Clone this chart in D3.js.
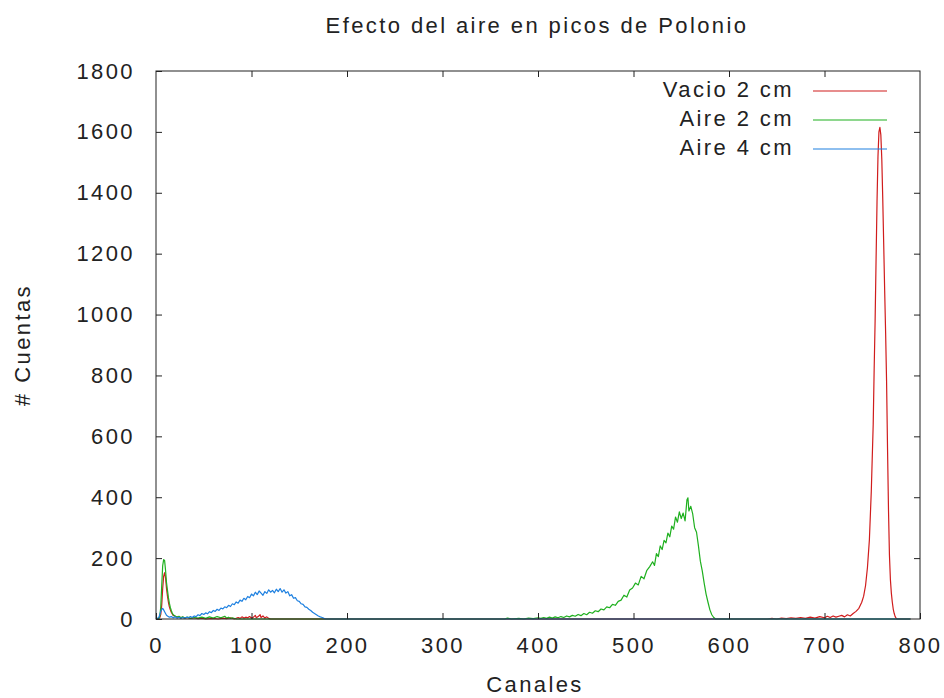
<!DOCTYPE html>
<html>
<head>
<meta charset="utf-8">
<script src="https://cdn.jsdelivr.net/npm/d3@7"></script>
<style>
  body { margin: 0; background: #fff; }
  svg text { font-family: "Liberation Sans", Arial, sans-serif; font-size: 22px; fill: #222; letter-spacing: 2.4px; }
</style>
</head>
<body>
<svg width="944" height="698"></svg>
<script>
// espectros [canal, cuentas]
const vacio2cm = [
  [0,0],[2,0],[4,5],[5,15],[6,45],[7,100],[8,140],[9,152],[10,135],[11,100],[12,75],[13,55],[14,40],
  [15,30],[16,22],[18,12],[20,9],[22,6],[24,8],[26,4],[28,6],[30,3],[33,5],[36,2],[40,4],[44,1],
  [48,3],[52,0],[60,2],[65,0],[70,3],[74,1],[78,4],[82,0],[86,5],[88,2],[90,7],[92,3],[94,6],[96,4],
  [98,8],[100,3],[102,6],[104,12],[105,4],[107,8],[109,14],[110,5],[112,10],[114,3],[116,7],[118,2],
  [120,0],[640,0],[645,2],[650,0],[655,3],[660,1],[665,4],[670,2],[675,5],[680,2],[685,6],[690,3],
  [695,8],[700,4],[703,9],[706,5],[709,10],[712,6],[715,9],[718,12],[721,7],[724,14],[727,10],
  [730,18],[733,25],[736,35],[739,55],[741,75],[743,110],[745,170],[747,260],[749,420],[751,640],
  [752,820],[753,980],[754,1180],[755,1370],[756,1520],[757,1600],[758,1615],[759,1590],[760,1510],
  [761,1380],[762,1230],[763,1080],[764,940],[765,780],[766,560],[767,360],[768,210],[769,130],
  [770,85],[771,55],[772,32],[773,18],[774,8],[775,3],[776,0],[790,0]
];
const aire2cm = [
  [0,0],[3,2],[4,10],[5,40],[6,110],[7,175],[8,195],[9,192],[10,160],[11,120],[12,95],[13,70],[14,52],
  [15,38],[16,28],[17,20],[18,14],[20,10],[22,6],[24,9],[26,4],[28,7],[30,3],[33,6],[36,2],[40,5],
  [44,3],[48,6],[52,2],[56,7],[60,3],[64,8],[68,4],[72,9],[74,3],[76,6],[78,2],[80,4],[84,0],
  [365,0],[368,3],[372,0],[380,2],[385,0],[390,3],[395,1],[400,4],[403,2],[406,5],[409,2],[412,6],
  [415,3],[418,7],[421,4],[424,8],[427,5],[430,10],[433,7],[436,12],[439,9],[442,15],[445,11],
  [448,18],[451,14],[454,22],[457,19],[460,27],[463,24],[466,33],[469,30],[472,40],[475,37],
  [478,48],[481,45],[484,58],[487,62],[490,78],[493,72],[496,95],[499,102],[502,118],[505,112],
  [508,140],[511,132],[514,160],[517,172],[520,188],[522,176],[524,215],[526,205],[528,240],
  [530,228],[532,258],[534,250],[536,282],[538,270],[540,305],[542,295],[544,335],[546,318],
  [548,352],[550,330],[552,348],[554,322],[556,392],[557,398],[558,355],[560,370],[562,345],
  [564,300],[566,285],[568,240],[570,190],[572,158],[574,118],[576,82],[578,55],[580,30],[582,14],
  [584,5],[586,0],[790,0]
];
const aire4cm = [
  [0,0],[3,5],[4,15],[5,25],[6,32],[7,35],[8,30],[9,24],[10,18],[11,12],[12,10],[14,6],[16,8],[18,4],
  [20,7],[22,3],[24,6],[26,2],[28,5],[30,3],[32,6],[34,4],[36,8],[38,5],[40,10],[42,8],[44,14],
  [46,11],[48,18],[50,15],[52,20],[54,17],[56,24],[58,21],[60,28],[62,25],[64,32],[66,28],[68,36],
  [70,33],[72,40],[74,37],[76,45],[78,41],[80,50],[82,47],[84,56],[86,52],[88,62],[90,58],[92,68],
  [94,63],[96,74],[98,70],[100,82],[102,76],[104,88],[106,80],[108,92],[110,85],[112,78],[114,90],
  [116,84],[118,96],[120,88],[122,94],[124,86],[126,98],[128,90],[130,100],[132,88],[134,96],
  [136,85],[138,90],[140,76],[142,80],[144,68],[146,70],[148,60],[150,58],[152,50],[154,48],
  [156,40],[158,38],[160,32],[162,28],[164,22],[166,18],[168,14],[170,10],[172,7],[174,5],[176,2],
  [178,0],[790,0]
];

const seriesNames = ["Vacio 2 cm", "Aire 2 cm", "Aire 4 cm"];
const seriesColors = ["#d01c1c", "#1fb01f", "#1e80e0"];
const xTicks = [0, 100, 200, 300, 400, 500, 600, 700, 800];
const yTicks = [0, 200, 400, 600, 800, 1000, 1200, 1400, 1600, 1800];

const svg = d3.select("svg");
const plotLeft = 156, plotRight = 920, plotTop = 71, plotBottom = 619;

const x = d3.scaleLinear().domain([0, 800]).range([plotLeft, plotRight]);
const y = d3.scaleLinear().domain([0, 1800]).range([plotBottom, plotTop]);

const line = d3.line()
  .x(d => x(d[0]))
  .y(d => y(d[1]));

// curvas
[vacio2cm, aire2cm, aire4cm].forEach((s, i) => {
  svg.append("path")
    .datum(s)
    .attr("d", line)
    .attr("fill", "none")
    .attr("stroke", seriesColors[i])
    .attr("stroke-width", 1.2)
    .attr("stroke-linejoin", "round");
});

// ejes (ticks hacia dentro, espejados)
const styleAxis = g => {
  g.select(".domain").remove();
  g.selectAll(".tick line").attr("stroke", "#222");
  g.selectAll(".tick text").attr("fill", "#222").attr("font-size", null).attr("font-family", null);
};

svg.append("g")
  .attr("transform", `translate(${plotLeft},0)`)
  .call(d3.axisLeft(y).tickValues(yTicks).tickFormat(d3.format("d")).tickSize(-6).tickPadding(21))
  .call(styleAxis);

svg.append("g")
  .attr("transform", `translate(${plotRight},0)`)
  .call(d3.axisRight(y).tickValues(yTicks.slice(1, -1)).tickSize(-6).tickFormat(""))
  .call(styleAxis);

svg.append("g")
  .attr("transform", `translate(0,${plotBottom})`)
  .call(d3.axisBottom(x).tickValues(xTicks).tickFormat(d3.format("d")).tickSize(-6).tickPadding(18))
  .call(styleAxis);

svg.append("g")
  .attr("transform", `translate(0,${plotTop})`)
  .call(d3.axisTop(x).tickValues(xTicks.slice(1, -1)).tickSize(-6).tickFormat(""))
  .call(styleAxis);

svg.append("rect")
  .attr("x", plotLeft).attr("y", plotTop)
  .attr("width", plotRight - plotLeft).attr("height", plotBottom - plotTop)
  .attr("fill", "none").attr("stroke", "#222").attr("stroke-width", 1);

// leyenda
seriesNames.forEach((name, i) => {
  const yy = 91 + i * 29;
  svg.append("text")
    .attr("x", 794).attr("y", yy + 6)
    .attr("text-anchor", "end")
    .text(name);
  svg.append("line")
    .attr("x1", 813).attr("x2", 887)
    .attr("y1", yy).attr("y2", yy)
    .attr("stroke", seriesColors[i])
    .attr("stroke-width", 1.2);
});

// titulos
svg.append("text")
  .attr("x", 537).attr("y", 33)
  .attr("text-anchor", "middle")
  .text("Efecto del aire en picos de Polonio");

svg.append("text")
  .attr("x", 535).attr("y", 692)
  .attr("text-anchor", "middle")
  .text("Canales");

svg.append("text")
  .attr("transform", "translate(30,345) rotate(-90)")
  .attr("text-anchor", "middle")
  .text("# Cuentas");
</script>
</body>
</html>
